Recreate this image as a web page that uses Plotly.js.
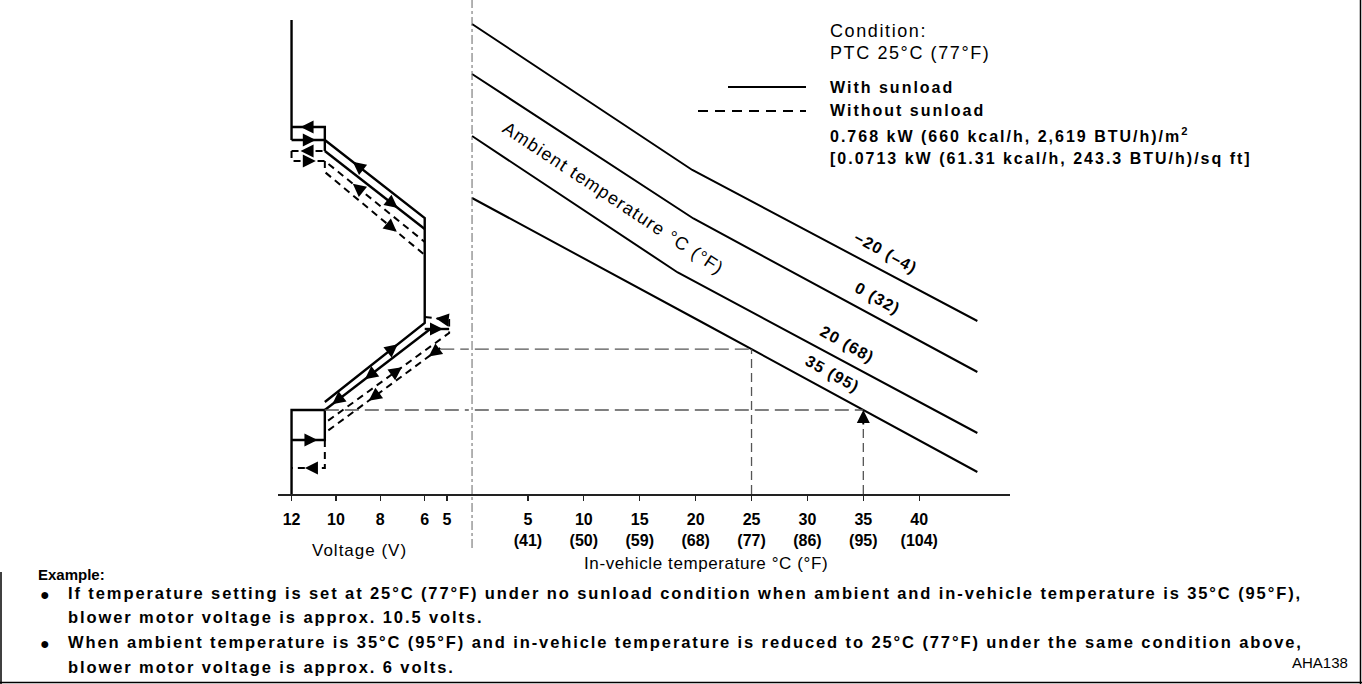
<!DOCTYPE html>
<html><head><meta charset="utf-8">
<script src="https://cdn.plot.ly/plotly-3.0.1.min.js"></script>
<style>html,body{margin:0;padding:0;background:#fff;}#chart{width:1362px;height:684px;}</style>
</head><body><div id="chart"></div>
<script>
// ================= DATA =================
// Right panel: in-vehicle temperature (°C) vs relative blower demand (unitless, 0 = base line)
const ambientNames = ['–20 (–4)', '0 (32)', '20 (68)', '35 (95)'];
const tempAmbM20 = [0, 19.7, 45.2];
const demandAmbM20 = [94.0, 64.8, 34.6];
const tempAmb0 = [0, 19.8, 45.2];
const demandAmb0 = [84.0, 55.1, 24.4];
const tempAmb20 = [0, 18.4, 45.2];
const demandAmb20 = [71.6, 44.3, 12.2];
const tempAmb35 = [0, 20.2, 45.2];
const demandAmb35 = [59.2, 34.8, 4.4];
const labelTemps = [37.0, 36.3, 33.6, 32.2];

const tempTicksC = [5, 10, 15, 20, 25, 30, 35, 40];
const tempTicksF = [41, 50, 59, 68, 77, 86, 95, 104];
const voltTicks = [12, 10, 8, 6, 5];

// Example read-off: in-vehicle temps on the 35 °C ambient line, and where the guide meets the voltage curve
const exampleTemps = [25, 35];
const exampleStartV = [5.3, 10.5];

// Left panel: blower voltage (V) vs demand — with sunload (solid), null separates paths
const sunV = [12, 12, null, 12, 10.5, 10.5, null, 12, 10.5, 6, 6, 10.5, null, 10.5, 6, null, 6, 4.9, null, 5.75, 10.5, null, 12, 12, 10.5, 10.5, 12];
const sunY = [94.8, 70.8, null, 73.4, 73.4, 68.6, null, 70.8, 70.8, 55.2, 34.2, 18.4, null, 68.6, 53.0, null, 33.0, 33.0, null, 33.0, 16.8, null, 0, 16.8, 16.8, 10.8, 10.8];
// without sunload (dashed)
const noSunV = [12, 10.5, null, 12, 12, 10.5, 6, null, 10.5, 10.5, 6, null, 6, 4.9, 4.9, 10.5, null, 5.3, 10.5, null, 10.5, 10.5, 12];
const noSunY = [68.6, 68.6, null, 68.6, 66.6, 66.6, 50.4, null, 66.6, 64.4, 47.8, null, 35.4, 34.8, 32.2, 14.2, null, 29.2, 12.2, null, 10.8, 5.2, 5.2];
// direction arrows: [segment start index, fraction along segment, +1 forward / -1 backward]
const sunArrows = [[3, 0.27, -1], [7, 0.73, 1], [8, 0.28, -1], [13, 0.73, 1], [10, 0.27, -1], [19, 0.62, 1], [19, 0.93, 1], [16, 0.75, 1], [25, 0.22, -1]];
const noSunArrows = [[0, 0.27, -1], [4, 0.73, 1], [5, 0.28, -1], [9, 0.72, 1], [12, 0.45, -1], [14, 0.38, -1], [17, 0.62, 1], [17, 0.1, 1], [21, 0.6, 1]];

// ================= LAYOUT HELPERS =================
const W = 1362, H = 684;
const PX = x => x / W, PY = y => 1 - y / H;
const FONT = 'Liberation Sans, Arial, Helvetica, sans-serif';
const leftDom = [278 / W, 466 / W], rightDom = [466 / W, 1010 / W];
const leftRange = [12.61, 4.14], rightRange = [-0.54, 48.12], yRange = [-38, 98.8];
const baseY = 1 - 494 / H;

const pxPer = (dom, rng) => (dom[1] - dom[0]) * W / (rng[1] - rng[0]);
const pxPerV = pxPer(leftDom, leftRange), pxPerT = pxPer(rightDom, rightRange);
const pxPerY = H / (yRange[1] - yRange[0]);
const sp = (s, ls) => '<span style="letter-spacing:' + ls + 'px">' + s + '</span>';

function interp(xs, ys, x) {
  for (let i = 0; i < xs.length - 1; i++) {
    if (x >= xs[i] && x <= xs[i + 1]) return ys[i] + (ys[i + 1] - ys[i]) * (x - xs[i]) / (xs[i + 1] - xs[i]);
  }
  return ys[ys.length - 1];
}

const annotations = [];
function arrowsFor(xs, ys, specs, xref, kx) {
  specs.forEach(([i, f, d]) => {
    const x0 = xs[i], y0 = ys[i], x1 = xs[i + 1], y1 = ys[i + 1];
    const tx = x0 + (x1 - x0) * f, ty = y0 + (y1 - y0) * f;
    let dx = (x1 - x0) * kx * d, dy = -(y1 - y0) * pxPerY * d;
    const len = Math.hypot(dx, dy) || 1;
    annotations.push({x: tx, y: ty, xref: xref, yref: 'y', text: '', showarrow: true,
      ax: -dx / len * 13, ay: -dy / len * 13, arrowhead: 2, arrowsize: 1.45, arrowwidth: 1.8,
      arrowcolor: '#000', standoff: 0});
  });
}
arrowsFor(sunV, sunY, sunArrows, 'x', pxPerV);
arrowsFor(noSunV, noSunY, noSunArrows, 'x', pxPerV);

function txt(text, x, y, size, opt) {
  annotations.push(Object.assign({text: text, x: PX(x), y: PY(y), xref: 'paper', yref: 'paper', showarrow: false,
    xanchor: 'left', yanchor: 'middle', font: {family: FONT, size: size, color: '#000'}}, opt || {}));
}

// ================= TRACES =================
const traces = [];
const ambT = [tempAmbM20, tempAmb0, tempAmb20, tempAmb35];
const ambY = [demandAmbM20, demandAmb0, demandAmb20, demandAmb35];
ambT.forEach((t, i) => traces.push({x: t, y: ambY[i], xaxis: 'x2', yaxis: 'y', mode: 'lines',
  line: {color: '#000', width: 2}, hoverinfo: 'skip', showlegend: false}));

traces.push({x: sunV, y: sunY, xaxis: 'x', yaxis: 'y', mode: 'lines', connectgaps: false,
  line: {color: '#000', width: 2.4}, hoverinfo: 'skip', showlegend: false});
traces.push({x: noSunV, y: noSunY, xaxis: 'x', yaxis: 'y', mode: 'lines', connectgaps: false,
  line: {color: '#000', width: 2, dash: '7px,5px'}, hoverinfo: 'skip', showlegend: false});

// guide lines from the example
const guideColor = '#555';
exampleTemps.forEach((t, i) => {
  const lvl = interp(tempAmb35, demandAmb35, t);
  traces.push({x: [rightRange[0] - 1, t], y: [lvl, lvl], xaxis: 'x2', yaxis: 'y', mode: 'lines',
    line: {color: guideColor, width: 1.3, dash: '14px,6px'}, hoverinfo: 'skip', showlegend: false});
  traces.push({x: [exampleStartV[i], leftRange[1] - 1], y: [lvl, lvl], xaxis: 'x', yaxis: 'y', mode: 'lines',
    line: {color: guideColor, width: 1.3, dash: '14px,6px'}, hoverinfo: 'skip', showlegend: false});
  traces.push({x: [t, t], y: [0, lvl], xaxis: 'x2', yaxis: 'y', mode: 'lines',
    line: {color: guideColor, width: 1.3, dash: '9px,5px'}, hoverinfo: 'skip', showlegend: false});
});
{
  const t = exampleTemps[1], lvl = interp(tempAmb35, demandAmb35, t);
  annotations.push({x: t, y: lvl, xref: 'x2', yref: 'y', text: '', showarrow: true, ax: 0, ay: 16,
    arrowhead: 2, arrowsize: 1.45, arrowwidth: 1.8, arrowcolor: '#000', standoff: 0});
}

// ambient labels along lines
ambientNames.forEach((n, i) => {
  const t = labelTemps[i];
  annotations.push({x: t, y: interp(ambT[i], ambY[i], t) + 3.9, xref: 'x2', yref: 'y', text: '<b>' + sp(n, 1.2) + '</b>',
    showarrow: false, textangle: 29, font: {family: FONT, size: 16, color: '#000'}});
});

// ================= TEXT =================
txt(sp('Ambient temperature °C (°F)', 1.2), 613, 198, 18, {xanchor: 'center', textangle: 33.5});
txt(sp('Condition:', 1.6), 828, 31, 18);
txt(sp('PTC 25°C (77°F)', 1.6), 828, 53, 18);
txt('<b>' + sp('With sunload', 2) + '</b>', 828, 87, 16);
txt('<b>' + sp('Without sunload', 2) + '</b>', 828, 111, 16);
txt('<b>' + sp('0.768 kW (660 kcal/h, 2,619 BTU/h)/m', 2) + '<sup>2</sup></b>', 828, 135, 16);
txt('<b>' + sp('[0.0713 kW (61.31 kcal/h, 243.3 BTU/h)/sq ft]', 2) + '</b>', 828, 159, 16);
txt(sp('Voltage (V)', 1), 359, 550, 17, {xanchor: 'center'});
txt(sp('In-vehicle temperature °C (°F)', 0.6), 706, 563, 17, {xanchor: 'center'});
txt('<b>Example:</b>', 36, 574, 15);
txt('●', 45, 594, 16, {xanchor: 'center'});
txt('<b>' + sp('If temperature setting is set at 25°C (77°F) under no sunload condition when ambient and in-vehicle temperature is 35°C (95°F),', 1.9) + '</b>', 66, 593, 16.5);
txt('<b>' + sp('blower motor voltage is approx. 10.5 volts.', 1.9) + '</b>', 66, 617, 16.5);
txt('●', 45, 643, 16, {xanchor: 'center'});
txt('<b>' + sp('When ambient temperature is 35°C (95°F) and in-vehicle temperature is reduced to 25°C (77°F) under the same condition above,', 1.9) + '</b>', 66, 642, 16.5);
txt('<b>' + sp('blower motor voltage is approx. 6 volts.', 1.9) + '</b>', 66, 667, 16.5);
txt('AHA138', 1350, 662, 15, {xanchor: 'right'});

// ================= SHAPES =================
const shapes = [
  // in-vehicle temperature 0 line
  {type: 'line', xref: 'x2', yref: 'y', x0: 0, x1: 0, y0: -10.8, y1: yRange[1], line: {color: '#666', width: 1, dash: 'dashdot'}},
  // legend samples
  {type: 'line', xref: 'paper', yref: 'paper', x0: PX(728), x1: PX(806), y0: PY(87), y1: PY(87), line: {color: '#000', width: 2}},
  {type: 'line', xref: 'paper', yref: 'paper', x0: PX(698), x1: PX(806), y0: PY(111), y1: PY(111), line: {color: '#000', width: 2, dash: '10px,7px'}},
  // frame
  {type: 'line', xref: 'paper', yref: 'paper', x0: PX(1360.5), x1: PX(1360.5), y0: 0, y1: 1, line: {color: '#000', width: 1.5}},
  {type: 'line', xref: 'paper', yref: 'paper', x0: 0, x1: 1, y0: PY(682.5), y1: PY(682.5), line: {color: '#000', width: 1.5}},
  {type: 'line', xref: 'paper', yref: 'paper', x0: PX(1), x1: PX(1), y0: PY(572), y1: 0, line: {color: '#000', width: 1.5}}
];

const axisCommon = {showgrid: false, zeroline: false, showline: true, linecolor: '#222', linewidth: 1.5,
  ticks: 'outside', ticklen: 5, tickcolor: '#222', tickwidth: 1.2, anchor: 'free', position: baseY,
  ticklabelstandoff: 5, tickfont: {family: FONT, size: 16, color: '#000'}, fixedrange: true};

const layout = {
  width: W, height: H, margin: {l: 0, r: 0, t: 0, b: 0}, paper_bgcolor: '#fff', plot_bgcolor: 'rgba(0,0,0,0)',
  showlegend: false,
  xaxis: Object.assign({}, axisCommon, {domain: leftDom, range: leftRange, tickmode: 'array',
    tickvals: voltTicks, ticktext: voltTicks.map(v => '<b>' + v + '</b>')}),
  xaxis2: Object.assign({}, axisCommon, {domain: rightDom, range: rightRange, tickmode: 'array',
    tickvals: tempTicksC, ticktext: tempTicksC.map((c, i) => '<b>' + c + '<br>(' + tempTicksF[i] + ')</b>')}),
  yaxis: {domain: [0, 1], range: yRange, visible: false, fixedrange: true, anchor: 'x'},
  annotations: annotations, shapes: shapes
};

Plotly.newPlot('chart', traces, layout, {staticPlot: true, displayModeBar: false});
</script>
</body></html>
